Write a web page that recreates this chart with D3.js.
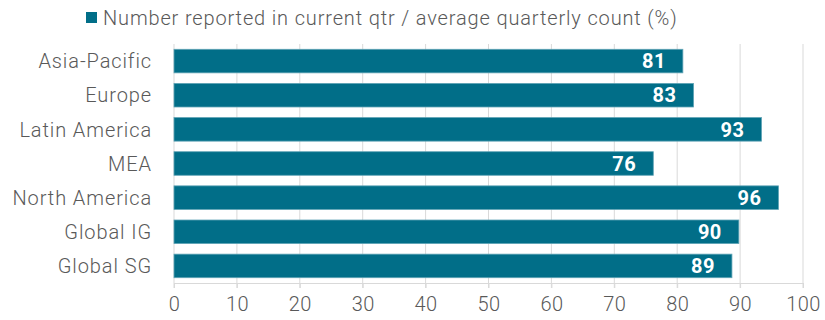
<!DOCTYPE html>
<html>
<head>
<meta charset="utf-8">
<script src="https://cdn.jsdelivr.net/npm/d3@7"></script>
<style>
  body { margin: 0; background: #fff; }
  text { font-family: Roboto, "Liberation Sans", sans-serif; }
</style>
</head>
<body>
<div class="BarChart"></div>
<script>
// chart data
const regions = ["Asia-Pacific", "Europe", "Latin America", "MEA", "North America", "Global IG", "Global SG"];
const ratioValues = [80.9, 82.6, 93.4, 76.2, 96.1, 89.8, 88.7];
const xTicks = [0, 10, 20, 30, 40, 50, 60, 70, 80, 90, 100];
const seriesName = "Number reported in current qtr / average quarterly count (%)";

const width = 825, height = 320;
const margin = {top: 44, bottom: 283};
const barColor = "#016e88";
const textColor = "#595959";

let svg = d3.select(".BarChart")
    .append("svg")
    .attr("width", width)
    .attr("height", height);

// 0 sits at x=174, 100 at x≈803
let xScale = d3.scaleLinear()
    .domain([0, 100])
    .range([174, 803]);

let yScale = d3.scaleBand()
    .domain(regions)
    .range([margin.top, margin.bottom])
    .paddingInner(0.31)
    .paddingOuter(0.155);

// vertical gridlines
svg.append("g")
    .selectAll("line")
    .data(xTicks)
    .enter()
    .append("line")
    .attr("x1", d => xScale(d))
    .attr("x2", d => xScale(d))
    .attr("y1", margin.top)
    .attr("y2", margin.bottom + 5)
    .attr("stroke", "#d9d9d9")
    .attr("stroke-width", 1);

// bottom axis
let xAxis = d3.axisBottom(xScale)
    .tickValues(xTicks)
    .tickSize(5)
    .tickPadding(9);

let axisG = svg.append("g")
    .attr("transform", "translate(0," + margin.bottom + ")")
    .call(xAxis);
axisG.select(".domain").attr("stroke", "#d9d9d9");
axisG.selectAll(".tick line").attr("stroke", "#d9d9d9");
axisG.selectAll(".tick text")
    .attr("fill", textColor)
    .style("font-size", "20px")
    .style("font-weight", "300")
    .style("letter-spacing", "0.4px");

// bars
svg.selectAll("rect.bar")
    .data(regions)
    .enter()
    .append("rect")
    .attr("class", "bar")
    .attr("x", xScale(0))
    .attr("y", d => yScale(d))
    .attr("width", (d, i) => xScale(ratioValues[i]) - xScale(0))
    .attr("height", yScale.bandwidth())
    .attr("fill", barColor)
    .attr("stroke", "#5fa3b5")
    .attr("stroke-width", 0.8);

// value labels
svg.selectAll("text.value")
    .data(regions)
    .enter()
    .append("text")
    .attr("class", "value")
    .attr("x", (d, i) => xScale(ratioValues[i]) - 17)
    .attr("y", d => yScale(d) + yScale.bandwidth() / 2)
    .attr("dy", "0.36em")
    .attr("text-anchor", "end")
    .style("font-size", "20px")
    .style("font-weight", "bold")
    .style("letter-spacing", "0.5px")
    .attr("fill", "#fff")
    .text((d, i) => Math.round(ratioValues[i]));

// category labels
svg.selectAll("text.cat")
    .data(regions)
    .enter()
    .append("text")
    .attr("class", "cat")
    .attr("x", 152)
    .attr("y", d => yScale(d) + yScale.bandwidth() / 2)
    .attr("dy", "0.36em")
    .attr("text-anchor", "end")
    .style("font-size", "20px")
    .style("font-weight", "300")
    .style("letter-spacing", "0.9px")
    .attr("fill", textColor)
    .text(d => d);

// legend
svg.append("rect")
    .attr("x", 86)
    .attr("y", 12)
    .attr("width", 11)
    .attr("height", 11)
    .attr("fill", barColor);

svg.append("text")
    .attr("x", 103)
    .attr("y", 17.5)
    .attr("dy", "0.36em")
    .style("font-size", "20px")
    .style("font-weight", "300")
    .style("letter-spacing", "0.85px")
    .attr("fill", textColor)
    .text(seriesName);
</script>
</body>
</html>
